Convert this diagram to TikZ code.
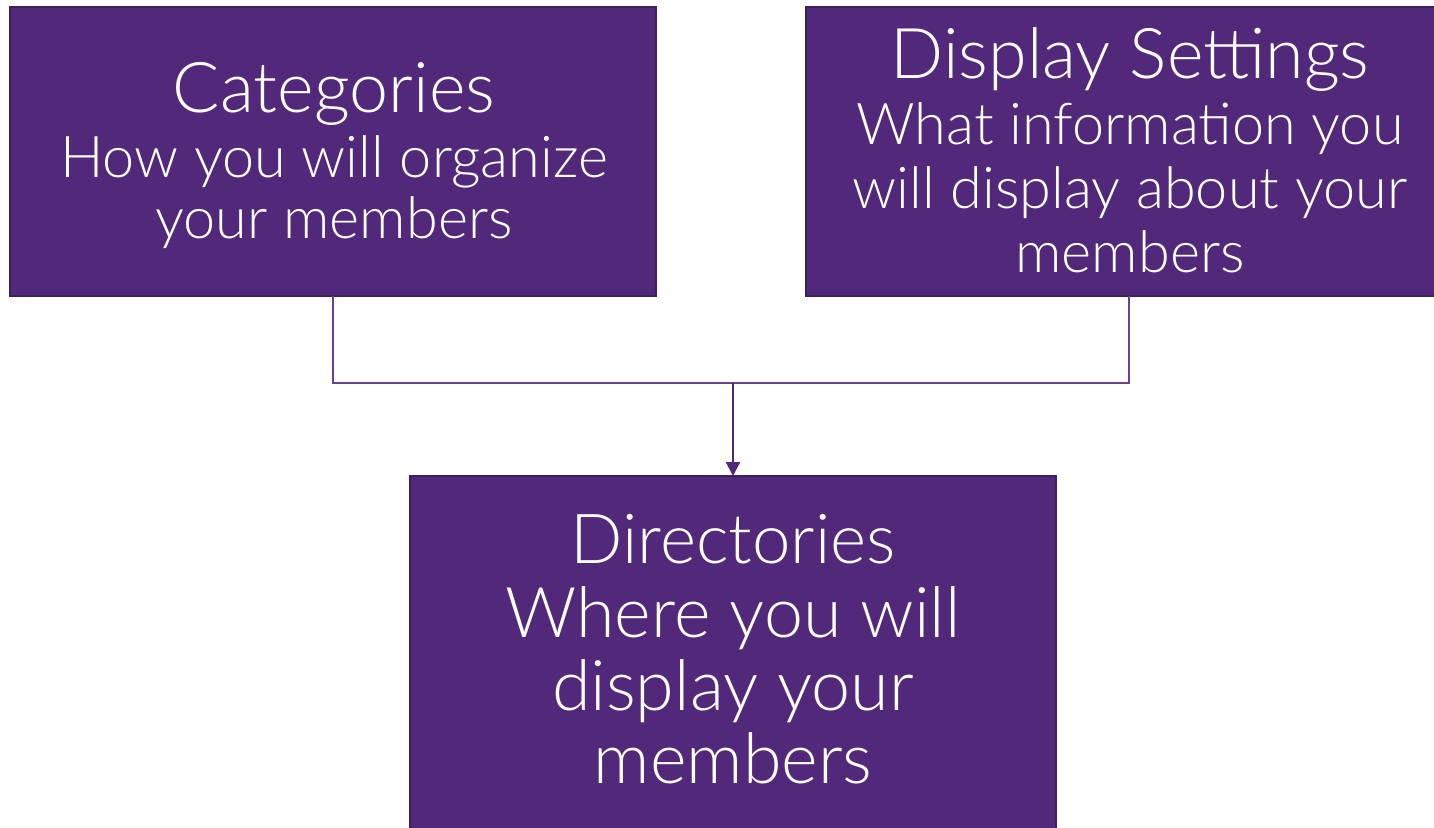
\documentclass[tikz,border=0pt]{standalone}
\usepackage{fontspec}
\setmainfont{Lato Light}
\usetikzlibrary{arrows.meta}
\definecolor{boxfill}{RGB}{82,41,122}
\definecolor{boxline}{RGB}{62,30,94}
\definecolor{conn}{RGB}{105,65,145}
\begin{document}
\begin{tikzpicture}[x=1pt,y=-1pt,
  box/.style={draw=boxline,line width=2pt,fill=boxfill,anchor=north west,inner sep=0pt,outer sep=0pt},
  txt/.style={text=white,anchor=base,inner sep=0pt},
  connline/.style={draw=conn,line width=1.5pt},
  arrowline/.style={draw=boxfill,line width=2.2pt,-{Triangle[length=14pt,width=14pt]}}]
\useasboundingbox[fill=white] (0,0) rectangle (1434,827);
\node[box,minimum width=646pt,minimum height=289pt] (cat) at (10,7) {};
\node[box,minimum width=646pt,minimum height=289pt] (disp) at (806,7) {};
\node[box,minimum width=646pt,minimum height=370pt] (dir) at (410,476) {};
% Categories
\node[txt,font=\fontsize{70}{72}\selectfont] (c1) at (334,112) {Categories};
\node[txt,font=\fontsize{57.6}{60}\selectfont] (c2) at (334,177) {How you will organize};
\node[txt,font=\fontsize{57.6}{60}\selectfont] (c3) at (334,238) {your members};
% Display Settings
\node[txt,font=\fontsize{70}{72}\selectfont] (d1) at (1130,78) {Display Settings};
\node[txt,font=\fontsize{57.6}{60}\selectfont] (d2) at (1130,144) {What information you};
\node[txt,font=\fontsize{57.6}{60}\selectfont] (d3) at (1130,208) {will display about your};
\node[txt,font=\fontsize{57.6}{60}\selectfont] (d4) at (1130,272) {members};
% Directories
\node[txt,font=\fontsize{69}{72}\selectfont] (r1) at (733,563) {Directories};
\node[txt,font=\fontsize{70}{72}\selectfont] (r2) at (733,637) {Where you will};
\node[txt,font=\fontsize{70}{72}\selectfont] (r3) at (733,710) {display your};
\node[txt,font=\fontsize{70}{72}\selectfont] (r4) at (733,783) {members};
\coordinate (mid) at (733,383);
\draw[connline] (cat.south) |- (mid) -| (disp.south);
\draw[arrowline] (mid) -- (mid |- dir.north);
\end{tikzpicture}
\end{document}
